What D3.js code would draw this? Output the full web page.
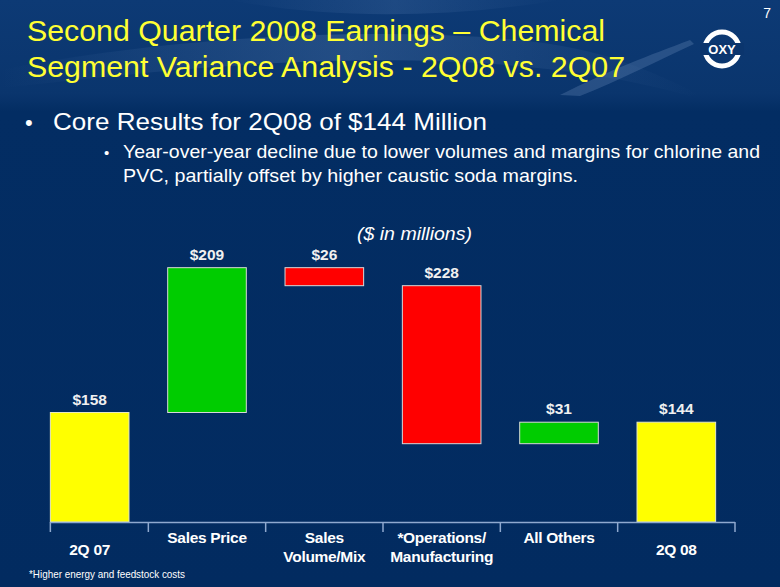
<!DOCTYPE html>
<html>
<head>
<meta charset="utf-8">
<script src="https://cdn.jsdelivr.net/npm/d3@7"></script>
<style>
  html, body { margin: 0; padding: 0; background: #022c62; }
  svg { display: block; }
  text { font-family: Arial, "Liberation Sans", Helvetica, sans-serif; }
</style>
</head>
<body>
<svg id="chart" width="780" height="587"></svg>
<script>
// ---- data ----
const categories = ["2Q 07", "Sales Price", "Sales Volume/Mix", "*Operations/Manufacturing", "All Others", "2Q 08"];
const categoryLines = [["2Q 07"], ["Sales Price"], ["Sales", "Volume/Mix"], ["*Operations/", "Manufacturing"], ["All Others"], ["2Q 08"]];
const values = [158, 209, -26, -228, 31, 144];
const barTypes = ["total", "delta", "delta", "delta", "delta", "total"];
const valueLabels = ["$158", "$209", "$26", "$228", "$31", "$144"];
const titleLines = ["Second Quarter 2008 Earnings \u2013 Chemical", "Segment Variance Analysis - 2Q08 vs. 2Q07"];
const bullet1 = "Core Results for 2Q08 of $144 Million";
const bullet2Lines = ["Year-over-year decline due to lower volumes and margins for chlorine and", "PVC, partially offset by higher caustic soda margins."];
const unitsNote = "($ in millions)";
const footnote = "*Higher energy and feedstock costs";
const pageNumber = "7";

// ---- waterfall computation ----
let running = 0;
const bars = categories.map((c, i) => {
  let y0, y1;
  if (barTypes[i] === "total") { y0 = 0; y1 = values[i]; running = values[i]; }
  else { y0 = running; y1 = running + values[i]; running = y1; }
  const color = barTypes[i] === "total" ? "#ffff00" : (values[i] >= 0 ? "#00cc00" : "#ff0000");
  return { cat: c, lines: categoryLines[i], lo: Math.min(y0, y1), hi: Math.max(y0, y1), color, label: valueLabels[i], type: barTypes[i] };
});

const svg = d3.select("#chart");
const W = 780, H = 587;

// ---- background ----
const defs = svg.append("defs");
const bg = defs.append("linearGradient").attr("id", "bgGrad").attr("x1", 0).attr("y1", 0).attr("x2", 0).attr("y2", 1);
bg.append("stop").attr("offset", "0%").attr("stop-color", "#0d3a75");
bg.append("stop").attr("offset", "16%").attr("stop-color", "#0a356d");
bg.append("stop").attr("offset", "19%").attr("stop-color", "#032d63");
bg.append("stop").attr("offset", "100%").attr("stop-color", "#022b60");
svg.append("rect").attr("width", W).attr("height", H).attr("fill", "url(#bgGrad)");

const streak = defs.append("linearGradient").attr("id", "streak").attr("x1", 0).attr("y1", 0).attr("x2", 1).attr("y2", 0);
streak.append("stop").attr("offset", "0%").attr("stop-color", "#6f93c4").attr("stop-opacity", 0.0);
streak.append("stop").attr("offset", "50%").attr("stop-color", "#6f93c4").attr("stop-opacity", 0.35);
streak.append("stop").attr("offset", "100%").attr("stop-color", "#6f93c4").attr("stop-opacity", 0.0);
const streakG = svg.append("g");
streakG.append("path").attr("d", "M0,70 C150,40 350,25 520,40 C600,48 650,70 700,95 L690,96 C600,70 470,55 300,62 C180,67 80,80 0,88 Z").attr("fill", "url(#streak)").attr("opacity", 0.7);
streakG.append("path").attr("d", "M230,0 C330,20 450,18 560,0 Z").attr("fill", "url(#streak)").attr("opacity", 0.5);
streakG.append("path").attr("d", "M560,95 C610,70 650,55 690,40 L694,44 C655,62 620,80 580,96 Z").attr("fill", "#7fa0cc").attr("opacity", 0.25);

// ---- title ----
const titleWidths = [578, 598];
svg.append("g").selectAll("text").data(titleLines).join("text")
  .attr("x", 27).attr("y", (d, i) => 41 + i * 36)
  .attr("fill", "#ffff33").attr("font-size", 29)
  .attr("textLength", (d, i) => titleWidths[i]).attr("lengthAdjust", "spacingAndGlyphs")
  .text(d => d);

// page number
svg.append("text").attr("x", 771).attr("y", 18).attr("text-anchor", "end")
  .attr("fill", "#ffffff").attr("font-size", 14).text(pageNumber);

// OXY logo
const logo = svg.append("g").attr("transform", "translate(722,49)");
logo.append("circle").attr("r", 17).attr("fill", "none").attr("stroke", "#ffffff").attr("stroke-width", 5);
logo.append("rect").attr("x", -22).attr("y", -6).attr("width", 44).attr("height", 12).attr("fill", "#0b356d");
logo.append("text").attr("x", 0).attr("y", 5).attr("text-anchor", "middle").attr("fill", "#ffffff")
  .attr("font-size", 13).attr("font-weight", "bold").text("OXY");

// ---- bullets ----
svg.append("text").attr("x", 25).attr("y", 130).attr("fill", "#ffffff").attr("font-size", 22).text("\u2022");
svg.append("text").attr("x", 53).attr("y", 130).attr("fill", "#ffffff").attr("font-size", 24)
  .attr("textLength", 434).attr("lengthAdjust", "spacingAndGlyphs").text(bullet1);
svg.append("text").attr("x", 104).attr("y", 158).attr("fill", "#ffffff").attr("font-size", 15).text("\u2022");
const bullet2Widths = [637, 455];
svg.append("g").selectAll("text").data(bullet2Lines).join("text")
  .attr("x", 123).attr("y", (d, i) => 158 + i * 24)
  .attr("fill", "#ffffff").attr("font-size", 19)
  .attr("textLength", (d, i) => bullet2Widths[i]).attr("lengthAdjust", "spacingAndGlyphs")
  .text(d => d);
svg.append("text").attr("x", 357).attr("y", 240).attr("fill", "#ffffff").attr("font-size", 19)
  .attr("font-style", "italic").attr("textLength", 115).attr("lengthAdjust", "spacingAndGlyphs").text(unitsNote);

// ---- scales ----
const x = d3.scaleBand().domain(categories).range([31, 735]).paddingInner(0.33).paddingOuter(0.165);
const y = d3.scaleLinear().domain([0, 400]).range([522, 244.8]);

// ---- bars ----
const g = svg.append("g");
g.selectAll("rect.bar").data(bars).join("rect").attr("class", "bar")
  .attr("x", d => x(d.cat)).attr("width", x.bandwidth())
  .attr("y", d => y(d.hi)).attr("height", d => y(d.lo) - y(d.hi))
  .attr("fill", d => d.color).attr("stroke", d => d.type === "total" ? "#e8e8c0" : "#d8d8d8").attr("stroke-width", 1);

g.selectAll("text.vlabel").data(bars).join("text").attr("class", "vlabel")
  .attr("x", d => x(d.cat) + x.bandwidth() / 2).attr("y", d => y(d.hi) - 8)
  .attr("text-anchor", "middle").attr("fill", "#f0f0f0").attr("font-size", 15.5).attr("font-weight", "bold")
  .text(d => d.label);

// ---- axis ----
const axisG = svg.append("g");
const step = x.step();
const gap = step - x.bandwidth();
const bounds = [x(categories[0])]
  .concat(categories.slice(1).map(c => x(c) - gap / 2))
  .concat([x(categories[categories.length - 1]) + x.bandwidth() + gap / 2]);
axisG.append("line").attr("x1", bounds[0]).attr("x2", bounds[bounds.length - 1]).attr("y1", y(0) + 0.5).attr("y2", y(0) + 0.5)
  .attr("stroke", "#8fa9cf").attr("stroke-width", 1.5);
axisG.selectAll("line.tick").data(bounds).join("line").attr("class", "tick")
  .attr("x1", d => d).attr("x2", d => d).attr("y1", y(0)).attr("y2", y(0) + 10)
  .attr("stroke", "#8fa9cf").attr("stroke-width", 1.5);

const labelG = axisG.selectAll("g.cl").data(bars).join("g").attr("class", "cl");
labelG.selectAll("text").data((d, i) => d.lines.map((l, k) => ({ l, k, cat: d.cat, type: d.type })))
  .join("text")
  .attr("x", d => x(d.cat) + x.bandwidth() / 2)
  .attr("y", d => (d.type === "total" ? 555 : 543) + d.k * 19)
  .attr("text-anchor", "middle").attr("fill", "#ffffff").attr("font-size", 15.5).attr("font-weight", "bold")
  .attr("letter-spacing", -0.3)
  .text(d => d.l);

// footnote
svg.append("text").attr("x", 29).attr("y", 578).attr("fill", "#ffffff").attr("font-size", 11)
  .attr("textLength", 156).attr("lengthAdjust", "spacingAndGlyphs").text(footnote);
</script>
</body>
</html>
